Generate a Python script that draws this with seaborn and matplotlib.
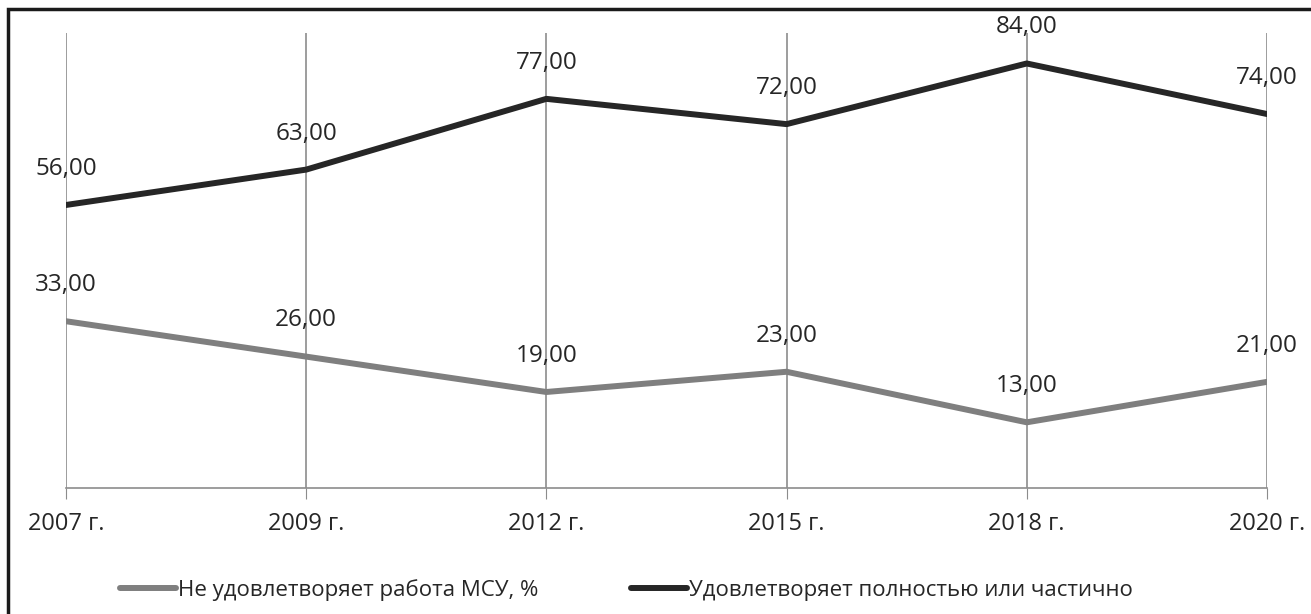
import pandas as pd
import matplotlib.pyplot as plt
import matplotlib.patches as patches
import seaborn as sns

sns.set_style('white')
plt.rcParams['font.family'] = ['Open Sans', 'DejaVu Sans']

# данные
years = ['2007 г.', '2009 г.', '2012 г.', '2015 г.', '2018 г.', '2020 г.']
ne_udovl = [33, 26, 19, 23, 13, 21]
udovl = [56, 63, 77, 72, 84, 74]
series_names = ['Не удовлетворяет работа МСУ, %', 'Удовлетворяет полностью или частично']

df = pd.DataFrame({
    'Год': years * 2,
    'Значение': ne_udovl + udovl,
    'Серия': [series_names[0]] * len(years) + [series_names[1]] * len(years),
})

fig = plt.figure(figsize=(13.11, 6.14), dpi=100)
ax = fig.add_axes([0.0503, 0.2052, 0.9161, 0.7408])

palette = {series_names[0]: '#7f7f7f', series_names[1]: '#262626'}
sns.lineplot(data=df, x='Год', y='Значение', hue='Серия', palette=palette,
             linewidth=4.3, ax=ax, sort=False)

# подписи значений
for vals in [ne_udovl, udovl]:
    for i, v in enumerate(vals):
        ax.annotate(f'{v:.2f}'.replace('.', ','), (i, v), xytext=(0, 26),
                    textcoords='offset points', ha='center', va='center',
                    fontsize=17.5, color='#262626')

ax.set_xlim(0, len(years) - 1)
ax.set_ylim(0, 90)
ax.set_yticks([])
ax.set_xlabel('')
ax.set_ylabel('')
ax.grid(axis='x', color='#8c8c8c', linewidth=1.2)
ax.tick_params(axis='x', bottom=True, length=8, color='#8c8c8c', labelsize=17,
               labelcolor='#262626', pad=9)
for s in ['top', 'left', 'right']:
    ax.spines[s].set_visible(False)
ax.spines['bottom'].set_color('#8c8c8c')
ax.spines['bottom'].set_linewidth(1.2)

leg = ax.legend(loc='center left', bbox_to_anchor=(120 / 1311, 1 - 590 / 614),
                bbox_transform=fig.transFigure, ncol=2, frameon=False,
                fontsize=16, handlelength=2.5, handletextpad=0.1,
                columnspacing=4.2, borderaxespad=0, borderpad=0)
for t in leg.get_texts():
    t.set_color('#262626')

# рамка рисунка
fig.patches.append(patches.Rectangle((8 / 1311, -0.1), 1.2, 1.1 - 9 / 614,
                                     transform=fig.transFigure, fill=False,
                                     edgecolor='#1a1a1a', linewidth=2.5))

fig.savefig('out.png', dpi=100)
